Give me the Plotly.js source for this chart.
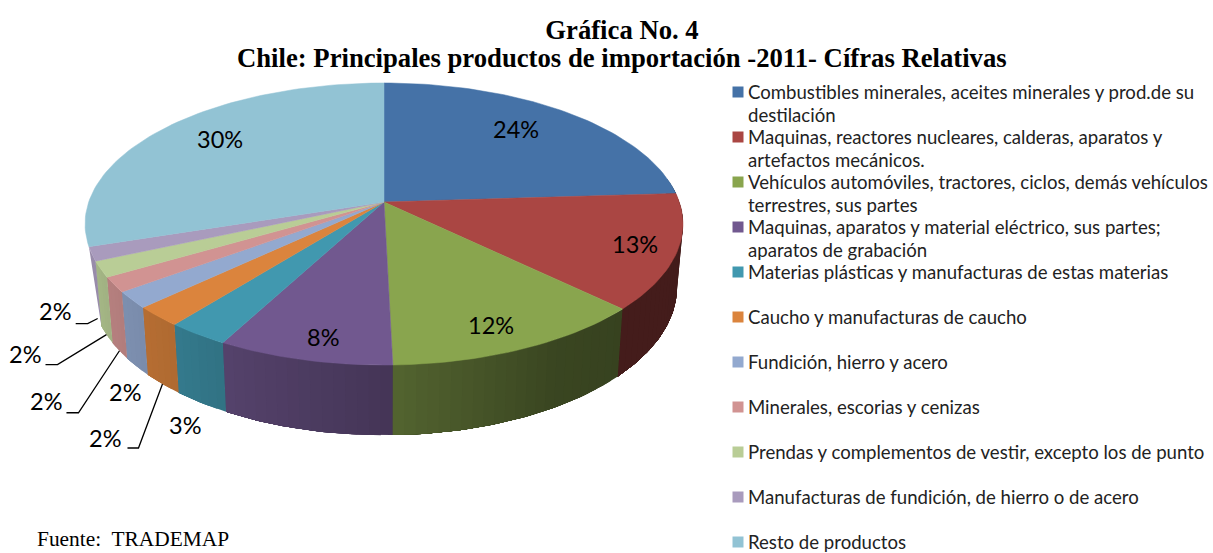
<!DOCTYPE html>
<html><head><meta charset="utf-8">
<script src="https://cdn.plot.ly/plotly-3.0.1.min.js"></script>
<style>html,body{margin:0;padding:0;background:#fff}#c{width:1213px;height:553px}</style>
</head><body><div id="c"></div>
<script>
const categories = [
 "Combustibles minerales, aceites minerales y prod.de su|destilación",
 "Maquinas, reactores nucleares, calderas, aparatos y|artefactos mecánicos.",
 "Vehículos automóviles, tractores, ciclos, demás vehículos|terrestres, sus partes",
 "Maquinas, aparatos y material eléctrico, sus partes;|aparatos de grabación",
 "Materias plásticas y manufacturas de estas materias",
 "Caucho y manufacturas de caucho",
 "Fundición, hierro y acero",
 "Minerales, escorias y cenizas",
 "Prendas y complementos de vestir, excepto los de punto",
 "Manufacturas de fundición, de hierro o de acero",
 "Resto de productos"
];
const values = [24.0, 13.2, 12.4, 8.2, 2.9, 2.3, 1.9, 1.7, 1.8, 1.6, 30.0];
const colors = ["#4572a7","#aa4643","#89a54e","#71588f","#4198af","#db843d","#93a9cf","#d19392","#b9cd96","#a99bbd","#92c3d4"];
const titleLine1 = 'Gráfica No. 4';
const titleLine2 = 'Chile: Principales productos de importación -2011- Cífras Relativas';
const sourceNote = 'Fuente:  TRADEMAP';

// projection of the tilted disc
const cx = 384, cy = 202, a = 295.3, b = 137.6, p = 0.156;
const rim = th => { const w = 1 + p*Math.cos(th); return [cx + a*Math.sin(th)/w, cy - b*Math.cos(th)/w]; };
const low = th => { const [x,y] = rim(th); return [cx + (x-cx)*0.98, cy + (y-cy)*1.05 + 62]; };
const deg = Math.PI/180;

// wall lighting by angle (deg)
const lightStops = [[0,.38],[133,.40],[150,.42],[178,.60],[208,.75],[218,.80],[250,.90],[360,.90]];
function light(d){ for(let i=1;i<lightStops.length;i++){ const [d0,l0]=lightStops[i-1],[d1,l1]=lightStops[i];
  if(d<=d1) return l0+(l1-l0)*(d-d0)/(d1-d0);} return .9; }
function shade(hex,f){ const n=parseInt(hex.slice(1),16);
  return `rgb(${Math.round((n>>16)*f)},${Math.round(((n>>8)&255)*f)},${Math.round((n&255)*f)})`; }

const total = values.reduce((s,v)=>s+v,0);
const traces = [], starts = [], ends = [];
let acc = 0;
values.forEach(v => { starts.push(acc/total*360); acc += v; ends.push(acc/total*360); });

const poly = (xs,ys,color,w) => ({type:'scatter',mode:'lines',x:xs,y:ys,fill:'toself',fillcolor:color,
  line:{color:color,width:w},hoverinfo:'skip',showlegend:false});

// walls: each band runs to the slice end and the next band paints over it, so no seams show.
// The last visible wall (second to last slice) tapers to a point on the rim, the silhouette of the disc.
const lastWall = values.length - 2;
values.forEach((v,i) => {
  if(i > lastWall) return;
  const s = Math.max(starts[i],80), e = ends[i];
  if(e<=s) return;
  const taper = i===lastWall;
  const n = taper ? 1 : Math.max(1,Math.ceil((e-s)/2));
  for(let k=0;k<n;k++){
    const d0 = s+(e-s)*k/n, xs=[], ys=[], xl=[], yl=[];
    const m = Math.max(1,Math.ceil(e-d0));
    for(let j=0;j<=m;j++){ const d=d0+(e-d0)*j/m, u=rim(d*deg), q=low((taper?s:d)*deg);
      xs.push(u[0]); ys.push(u[1]); xl.unshift(q[0]); yl.unshift(q[1]); }
    const X=xs.concat(xl), Y=ys.concat(yl); X.push(xs[0]); Y.push(ys[0]);
    traces.push(poly(X,Y,shade(colors[i],light(d0+(e-s)/n/2)),0));
  }
});
// top faces
values.forEach((v,i) => {
  const xs=[cx], ys=[cy], n=Math.max(4,Math.ceil((ends[i]-starts[i])/1.5));
  for(let k=0;k<=n;k++){ const [x,y]=rim((starts[i]+(ends[i]-starts[i])*k/n)*deg); xs.push(x); ys.push(y); }
  xs.push(cx); ys.push(cy);
  traces.push(poly(xs,ys,colors[i],0.5));
});

// percent labels: absolute spot for those on or by the pie, offsets from the rim for leaders
const labelSpots = {0:[516,129],1:[635,244],2:[491,325],3:[323,337],4:[185,425],6:[125,392],10:[220,139]};
const leaders = {5:[[-24,64],[-35,64],[-57,54]], 7:[[-41,62],[-53,62],[-73,50]], 8:[[-49,30],[-61,30],[-81,19]], 9:[[-10,5],[-22,5],[-43,-8]]};
const annotations = [];
const pct = i => Math.round(values[i]/total*100)+'%';
const lab = (x,y,t) => annotations.push({x,y,text:t,showarrow:false,xanchor:'center',yanchor:'middle',
   font:{family:'Lato, sans-serif',size:23.5,color:'#000'}});
values.forEach((v,i)=>{
  if(labelSpots[i]) lab(labelSpots[i][0],labelSpots[i][1],pct(i));
  if(leaders[i]){
    const [sx,sy]=low((starts[i]+ends[i])/2*deg), [e,f,l]=leaders[i];
    traces.push({type:'scatter',mode:'lines',x:[sx,sx+e[0],sx+f[0]],y:[sy,sy+e[1],sy+f[1]],
      line:{color:'#000',width:1.3},hoverinfo:'skip',showlegend:false});
    lab(sx+l[0],sy+l[1],pct(i));
  }
});

// legend
const legX = 738, legY0 = 92, legStep = 45.0, linePitch = 23;
traces.push({type:'scatter',mode:'markers',x:categories.map(()=>legX),y:categories.map((c,i)=>legY0+i*legStep),
  marker:{symbol:'square',size:11,color:colors},hoverinfo:'skip',showlegend:false});
categories.forEach((c,i)=>c.split('|').forEach((t,j)=>annotations.push({x:legX+8,y:legY0+i*legStep+j*linePitch,text:t,
  showarrow:false,xanchor:'left',yanchor:'middle',font:{family:'Lato, sans-serif',size:18.6,color:'#222'}})));

annotations.push({x:35,y:539,text:sourceNote,showarrow:false,xanchor:'left',yanchor:'middle',
  font:{family:'"Liberation Serif", serif',size:21.4,color:'#000'}});
annotations.push({x:622,y:58,text:'<b>'+titleLine2+'</b>',showarrow:false,xanchor:'center',yanchor:'middle',
  font:{family:'"Liberation Serif", serif',size:26.7,color:'#000'}});

const axis = r => ({range:r,visible:false,fixedrange:true});
Plotly.newPlot('c',traces,{
  width:1213,height:553,margin:{l:0,r:0,t:0,b:0},paper_bgcolor:'#fff',plot_bgcolor:'#fff',showlegend:false,
  title:{text:'<b>'+titleLine1+'</b>',x:622/1213,xanchor:'center',y:1-30/553,yanchor:'middle',
    font:{family:'"Liberation Serif", serif',size:26.7,color:'#000'}},
  xaxis:axis([0,1213]),yaxis:axis([553,0]),annotations
},{displayModeBar:false,staticPlot:true});
</script></body></html>
